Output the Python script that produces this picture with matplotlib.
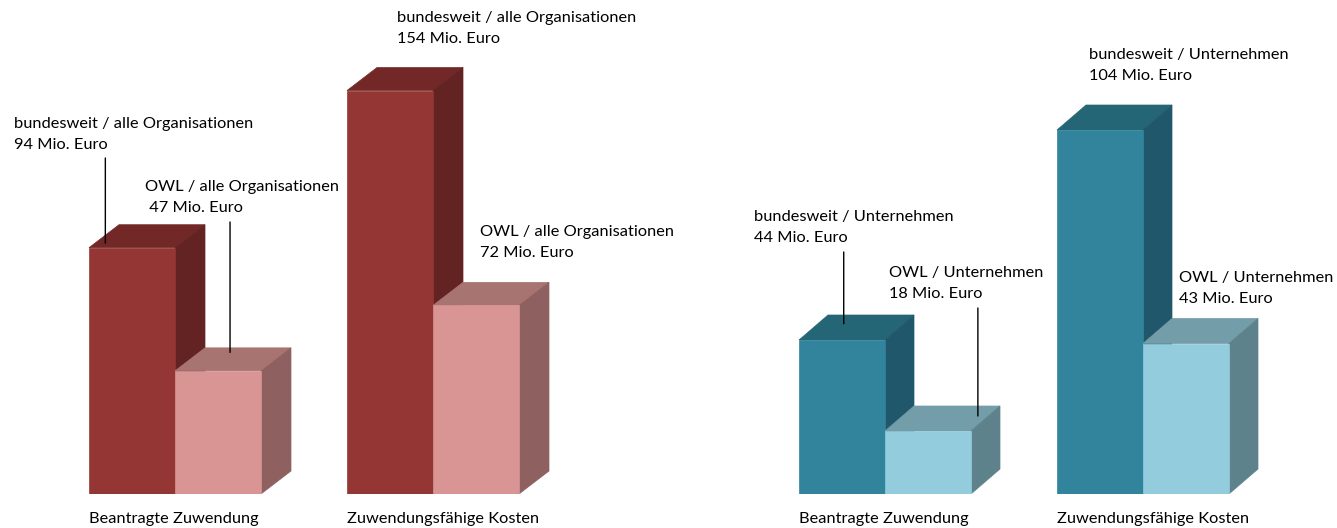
import matplotlib.pyplot as plt
import matplotlib.transforms as mtransforms
from matplotlib.patches import Polygon

W, H = 1337, 528

########################################################################
# Data
categories = ["Beantragte Zuwendung", "Zuwendungsfähige Kosten"]
alle_bund = [94, 154]
alle_owl = [47, 72]
unt_bund = [44, 104]
unt_owl = [18, 43]
alle_names = ["bundesweit / alle Organisationen", "OWL / alle Organisationen"]
unt_names = ["bundesweit / Unternehmen", "OWL / Unternehmen"]

# Colours: front, top, side
red_dark = ["#943634", "#722827", "#632323"]
red_light = ["#D99594", "#A87471", "#8E6060"]
teal_dark = ["#31849B", "#256676", "#21576A"]
teal_light = ["#93CDDD", "#729DA9", "#5E828B"]

plt.rcParams["font.family"] = ["Lato", "DejaVu Sans"]
FS = 11.8

fig = plt.figure(figsize=(W / 100, H / 100), dpi=100)
fig.patch.set_facecolor("white")


def px(x, y):
    # image pixel (from top) -> figure fraction
    return x / W, 1 - y / H


# This function draws one pseudo-3D bar (front, top and side face).
def bar3d(ax, x, h, w, dx, dy, cols, z):
    top = Polygon([(x, h), (x + w, h), (x + w + dx, h + dy), (x + dx, h + dy)],
                  closed=True, fc=cols[1], ec=cols[1], lw=0.5, zorder=z)
    side = Polygon([(x + w, 0), (x + w + dx, dy), (x + w + dx, h + dy), (x + w, h)],
                   closed=True, fc=cols[2], ec=cols[2], lw=0.5, zorder=z)
    ax.add_patch(top)
    ax.add_patch(side)
    ax.bar(x, h, width=w, align="edge", color=cols[0], ec=cols[0], lw=0.5,
           zorder=z + 0.5)


# This function creates one panel with two groups of two bars.
def panel(left_px, scale, ymax, bund, owl, cols_b, cols_o, depth_px):
    unit = 86.0
    ax = fig.add_axes([left_px / W, 34 / H, 7 * unit / W, ymax * scale / H])
    ax.set_xlim(-1, 6)
    ax.set_ylim(0, ymax)
    ax.axis("off")
    dx = depth_px[0] / unit
    dy = depth_px[1] / scale
    z = 2
    for g in range(len(categories)):
        x0 = g * 3
        bar3d(ax, x0, bund[g], 1, dx, dy, cols_b, z)
        bar3d(ax, x0 + 1, owl[g], 1, dx, dy, cols_o, z + 1)
        z += 2
        trans = mtransforms.blended_transform_factory(ax.transData, fig.transFigure)
        ax.text(x0, 1 - 523 / H, categories[g], transform=trans, fontsize=FS,
                ha="left", va="baseline")
    return ax, dy


def label(x, y, line1, line2):
    fig.text(*px(x, y), line1, fontsize=FS, ha="left", va="baseline")
    fig.text(*px(x, y + 21), line2, fontsize=FS, ha="left", va="baseline")


def leader(ax, xd, yd, top_y):
    trans = mtransforms.blended_transform_factory(ax.transData, fig.transFigure)
    ax.annotate("", xy=(xd, yd), xycoords="data",
                xytext=(xd, 1 - top_y / H), textcoords=trans,
                arrowprops=dict(arrowstyle="-", color="black", lw=1,
                                shrinkA=0, shrinkB=0), zorder=20)


########################################################################
# Left panel: alle Organisationen
ax1, dy1 = panel(3, 2.62, 180, alle_bund, alle_owl, red_dark, red_light, (30, 23))
label(14, 128, alle_names[0], f"{alle_bund[0]} Mio. Euro")
label(145, 191, alle_names[1], f" {alle_owl[0]} Mio. Euro")
label(397, 22, alle_names[0], f"{alle_bund[1]} Mio. Euro")
label(480, 236, alle_names[1], f"{alle_owl[1]} Mio. Euro")
leader(ax1, 0.19, alle_bund[0] + 0.2 * dy1, 158)
leader(ax1, 1.64, alle_owl[0] + 0.8 * dy1, 222)

# Right panel: Unternehmen
ax2, dy2 = panel(713, 3.5, 130, unt_bund, unt_owl, teal_dark, teal_light, (29, 25))
label(754, 221, unt_names[0], f"{unt_bund[0]} Mio. Euro")
label(889, 277, unt_names[1], f"{unt_owl[0]} Mio. Euro")
label(1089, 59, unt_names[0], f"{unt_bund[1]} Mio. Euro")
label(1179, 282, unt_names[1], f"{unt_owl[1]} Mio. Euro")
leader(ax2, 0.52, unt_bund[0] + 0.65 * dy2, 252)
leader(ax2, 2.08, unt_owl[0] + 0.6 * dy2, 308)

fig.savefig("out.png", dpi=100, facecolor="white")
